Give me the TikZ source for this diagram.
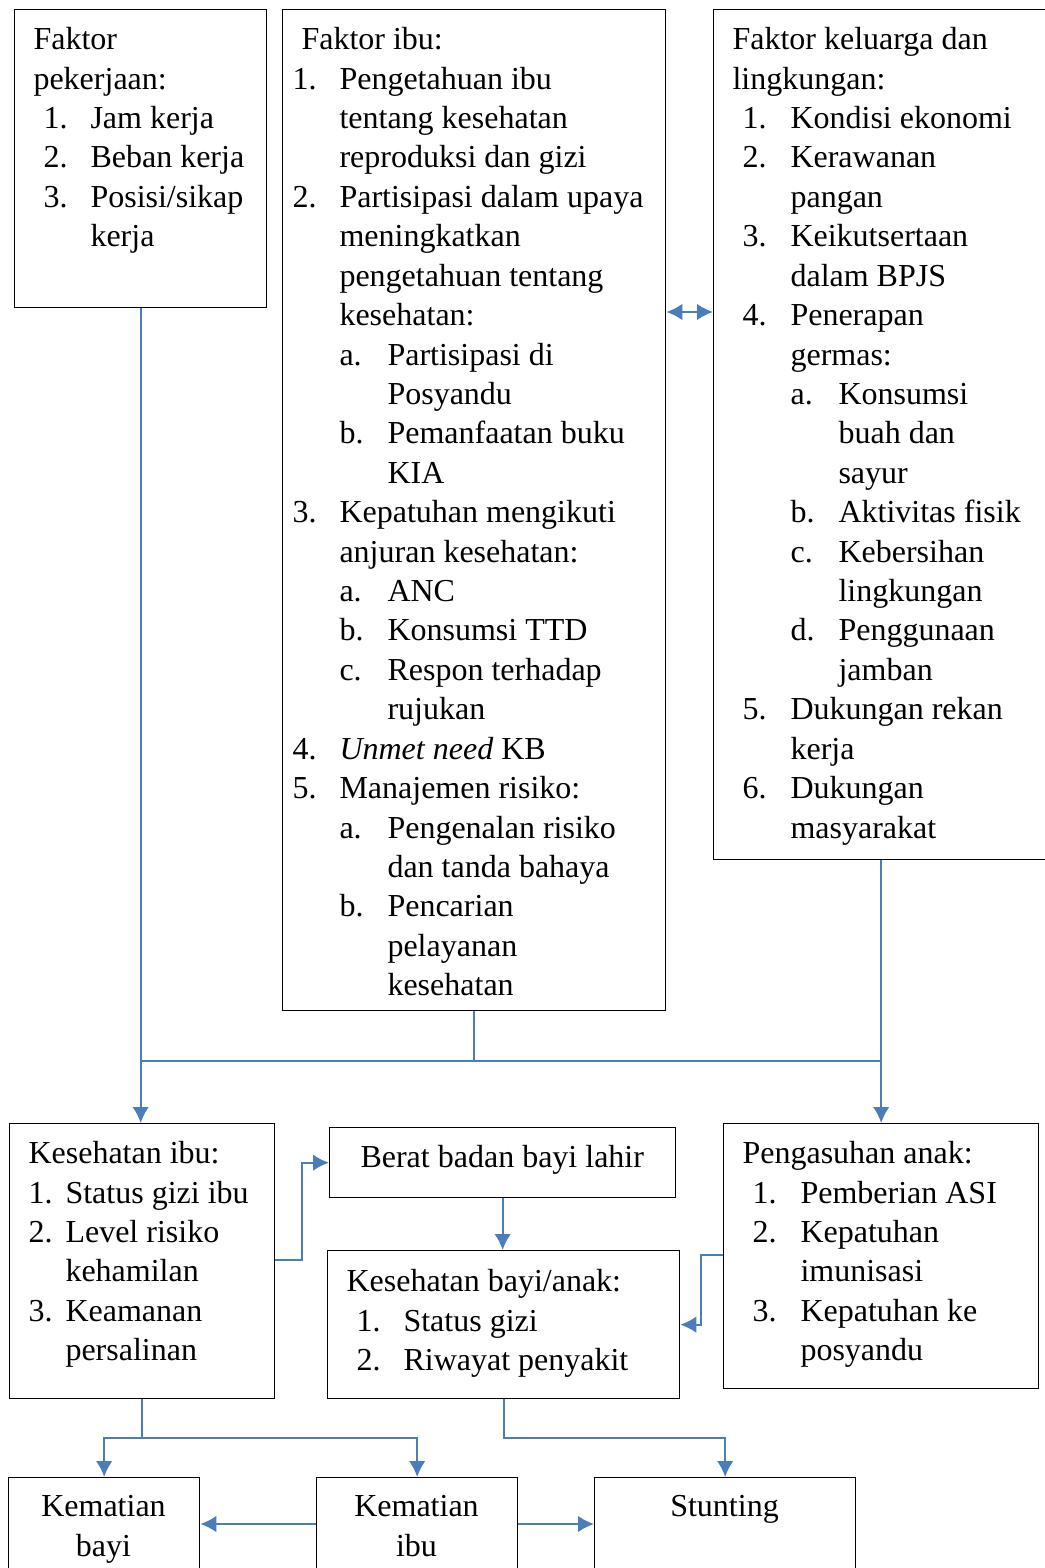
\documentclass[tikz,border=0pt]{standalone}
\usepackage{fontspec}
\setmainfont{Liberation Serif}
\usetikzlibrary{arrows.meta}
% one drawing unit
\newdimen\pxu \pxu=0.375pt
% numbered line: indent, label width, label, text
\newcommand\li[4]{\hspace*{#1\pxu}\makebox[#2\pxu][l]{#3}#4}
% continuation line: indent, text
\newcommand\lc[2]{\hspace*{#1\pxu}#2}
\definecolor{linkblue}{RGB}{74,126,187}
\tikzset{
  box/.style={draw=black, line width=0.5pt, inner sep=0pt, anchor=north west},
  txt/.style={anchor=north west, inner sep=0pt, align=left,
    font=\fontsize{12}{14.78}\selectfont},
  ctxt/.style={anchor=north, inner sep=0pt, align=center,
    font=\fontsize{12}{14.78}\selectfont},
  conn/.style={draw=linkblue, line width=0.75pt},
  tip/.tip={Latex[length=6pt,width=6.2pt]}
}
\begin{document}
\begin{tikzpicture}[x=0.375pt, y=-0.375pt]
\useasboundingbox (0,0) rectangle (1044,1568);
\fill[white] (0,0) rectangle (1044,1568);

% boxes
\node[box, minimum width=252\pxu, minimum height=298\pxu] (pek) at (14,9) {};
\node[box, minimum width=383\pxu, minimum height=1001\pxu] (ibu) at (282,9) {};
\node[box, minimum width=340\pxu, minimum height=850\pxu] (kel) at (713,9) {};
\node[box, minimum width=265\pxu, minimum height=275\pxu] (kesibu) at (9,1123) {};
\node[box, minimum width=346\pxu, minimum height=70\pxu] (bbl) at (329,1127) {};
\node[box, minimum width=352\pxu, minimum height=148\pxu] (kesbayi) at (327,1250) {};
\node[box, minimum width=315\pxu, minimum height=265\pxu] (asuh) at (723,1123) {};
\node[box, minimum width=191\pxu, minimum height=120\pxu] (matbayi) at (8,1477) {};
\node[box, minimum width=201\pxu, minimum height=120\pxu] (matibu) at (316,1477) {};
\node[box, minimum width=261\pxu, minimum height=120\pxu] (stunt) at (594,1477) {};

% texts
\node[txt] (tpek) at (33,27) {%
\lc{0}{Faktor}\\
\lc{0}{pekerjaan:}\\
\li{10}{47}{1.}{Jam kerja}\\
\li{10}{47}{2.}{Beban kerja}\\
\li{10}{47}{3.}{Posisi/sikap}\\
\lc{57}{kerja}};

\node[txt] (tibu) at (292,27) {%
\lc{9}{Faktor ibu:}\\
\li{0}{47}{1.}{Pengetahuan ibu}\\
\lc{47}{tentang kesehatan}\\
\lc{47}{reproduksi dan gizi}\\
\li{0}{47}{2.}{Partisipasi dalam upaya}\\
\lc{47}{meningkatkan}\\
\lc{47}{pengetahuan tentang}\\
\lc{47}{kesehatan:}\\
\li{47}{48}{a.}{Partisipasi di}\\
\lc{95}{Posyandu}\\
\li{47}{48}{b.}{Pemanfaatan buku}\\
\lc{95}{KIA}\\
\li{0}{47}{3.}{Kepatuhan mengikuti}\\
\lc{47}{anjuran kesehatan:}\\
\li{47}{48}{a.}{ANC}\\
\li{47}{48}{b.}{Konsumsi TTD}\\
\li{47}{48}{c.}{Respon terhadap}\\
\lc{95}{rujukan}\\
\li{0}{47}{4.}{\textit{Unmet need} KB}\\
\li{0}{47}{5.}{Manajemen risiko:}\\
\li{47}{48}{a.}{Pengenalan risiko}\\
\lc{95}{dan tanda bahaya}\\
\li{47}{48}{b.}{Pencarian}\\
\lc{95}{pelayanan}\\
\lc{95}{kesehatan}};

\node[txt] (tkel) at (732,27) {%
\lc{0}{Faktor keluarga dan}\\
\lc{0}{lingkungan:}\\
\li{10}{48}{1.}{Kondisi ekonomi}\\
\li{10}{48}{2.}{Kerawanan}\\
\lc{58}{pangan}\\
\li{10}{48}{3.}{Keikutsertaan}\\
\lc{58}{dalam BPJS}\\
\li{10}{48}{4.}{Penerapan}\\
\lc{58}{germas:}\\
\li{58}{48}{a.}{Konsumsi}\\
\lc{106}{buah dan}\\
\lc{106}{sayur}\\
\li{58}{48}{b.}{Aktivitas fisik}\\
\li{58}{48}{c.}{Kebersihan}\\
\lc{106}{lingkungan}\\
\li{58}{48}{d.}{Penggunaan}\\
\lc{106}{jamban}\\
\li{10}{48}{5.}{Dukungan rekan}\\
\lc{58}{kerja}\\
\li{10}{48}{6.}{Dukungan}\\
\lc{58}{masyarakat}};

\node[txt] (tkesibu) at (28,1141) {%
\lc{0}{Kesehatan ibu:}\\
\li{0}{37}{1.}{Status gizi ibu}\\
\li{0}{37}{2.}{Level risiko}\\
\lc{37}{kehamilan}\\
\li{0}{37}{3.}{Keamanan}\\
\lc{37}{persalinan}};

\node[txt] (tbbl) at (360,1145) {Berat badan bayi lahir};

\node[txt] (tkesbayi) at (346,1269) {%
\lc{0}{Kesehatan bayi/anak:}\\
\li{10}{47}{1.}{Status gizi}\\
\li{10}{47}{2.}{Riwayat penyakit}};

\node[txt] (tasuh) at (742,1141) {%
\lc{0}{Pengasuhan anak:}\\
\li{10}{48}{1.}{Pemberian ASI}\\
\li{10}{48}{2.}{Kepatuhan}\\
\lc{58}{imunisasi}\\
\li{10}{48}{3.}{Kepatuhan ke}\\
\lc{58}{posyandu}};

\node[ctxt] (tmatbayi) at (103.5,1495) {Kematian\\bayi};
\node[ctxt] (tmatibu) at (416.5,1495) {Kematian\\ibu};
\node[ctxt] (tstunt) at (724.5,1495) {Stunting};

% connectors
\coordinate (jL) at (141,1061);
\coordinate (jR) at (881,1061);
\draw[conn] (jL) -- (jR);
\draw[conn, -tip] (pek.south) -- (pek.south |- kesibu.north);
\draw[conn] (ibu.south) -- (ibu.south |- jL);
\draw[conn, -tip] (asuh.north |- kel.south) -- (asuh.north);
\draw[conn, tip-tip] (ibu.east |- 0,312) -- (kel.west |- 0,312);
\draw[conn, -tip] (kesibu.east |- 0,1260) -- ++(27,0) |- (bbl.west);
\draw[conn, -tip] (bbl.south) -- (bbl.south |- kesbayi.north);
\draw[conn, -tip] (asuh.west |- 0,1255) -- ++(-22,0) |- (kesbayi.east);
\coordinate (kb) at (kesibu.south |- 0,1438);
\draw[conn] (kesibu.south) -- (kb);
\draw[conn, -tip] (kb) -| (matbayi.north);
\draw[conn, -tip] (kb) -| (matibu.north);
\draw[conn, -tip] (kesbayi.south) -- (kesbayi.south |- 0,1438) -| (stunt.north);
\draw[conn, -tip] (matibu.west |- 0,1524) -- (matbayi.east |- 0,1524);
\draw[conn, -tip] (matibu.east |- 0,1524) -- (stunt.west |- 0,1524);
\end{tikzpicture}
\end{document}
